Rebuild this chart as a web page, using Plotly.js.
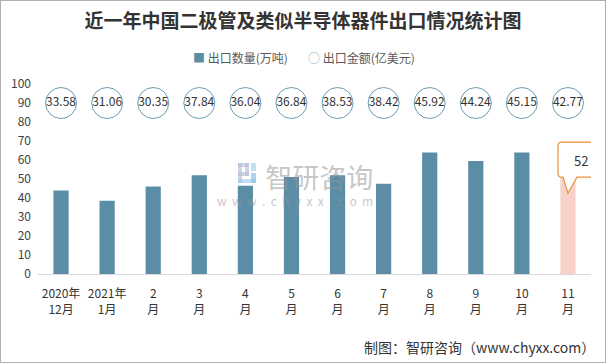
<!DOCTYPE html>
<html>
<head>
<meta charset="utf-8">
<script src="https://cdn.plot.ly/plotly-3.0.1.min.js"></script>
<style>
  html, body { margin: 0; padding: 0; background: #fff; }
  #wrap { width: 606px; height: 363px; box-sizing: border-box; border: 1px solid #b0b0b0; position: relative; overflow: hidden; }
  #chart { position: absolute; left: -1px; top: -1px; width: 606px; height: 363px; }
</style>
</head>
<body>
<div id="wrap"><div id="chart"></div></div>
<script>
// ---- data ----
const categories = ['2020年<br>12月', '2021年<br>1月', '2<br>月', '3<br>月', '4<br>月', '5<br>月', '6<br>月', '7<br>月', '8<br>月', '9<br>月', '10<br>月', '11<br>月'];
const exportVolume = [44, 38.5, 46, 52, 46.5, 51, 52, 47.5, 64, 59.5, 64, 52];   // 出口数量(万吨)
const exportValue = [33.58, 31.06, 30.35, 37.84, 36.04, 36.84, 38.53, 38.42, 45.92, 44.24, 45.15, 42.77]; // 出口金额(亿美元)
const yTicks = [0, 10, 20, 30, 40, 50, 60, 70, 80, 90, 100];
const seriesNames = ['出口数量(万吨)', '出口金额(亿美元)'];

// ---- styles ----
const FONT = '"Noto Sans CJK SC", "Microsoft YaHei", sans-serif';
const barBlue = '#5b8ea6';
const barPink = '#f8d2c9';
const circleLine = '#6c9cb3';
const labelRow = 90; // level of the circle labels row
const lastIdx = categories.length - 1;
const barColors = exportVolume.map((v, i) => i === lastIdx ? barPink : barBlue);

const traces = [
  {
    type: 'bar', name: seriesNames[0], x: categories, y: exportVolume,
    marker: { color: barColors, line: { width: 0 } }, showlegend: false
  },
  {
    type: 'scatter', mode: 'markers+text', name: seriesNames[1],
    x: categories, y: exportValue.map(() => labelRow),
    text: exportValue.map(v => v.toFixed(2)), textposition: 'middle center',
    textfont: { family: FONT, size: 12, color: '#333333' },
    marker: { symbol: 'circle', size: 31, color: '#ffffff', line: { color: circleLine, width: 1 } },
    showlegend: false, cliponaxis: false
  }
];

const plotL = 38, plotW = 606 - 38 - 15, plotT = 84, plotH = 363 - 84 - 89;
const px = x => (x - plotL) / plotW;
const py = y => (plotT + plotH - y) / plotH;

// watermark logo pieces (pixel boxes: x0, y0, x1, y1, colour)
const logoParts = [
  [238, 163, 249, 167, 'rgba(176,186,214,0.6)'],
  [238, 163, 242, 183, 'rgba(176,186,214,0.6)'],
  [245, 163, 249, 176, 'rgba(176,186,214,0.6)'],
  [238, 172, 249, 176, 'rgba(176,186,214,0.6)'],
  [251, 163, 256, 171, 'rgba(150,200,235,0.6)'],
  [251, 173, 256, 183, 'rgba(120,180,225,0.6)'],
  [238, 179, 256, 183, 'rgba(140,190,230,0.5)']
];

const layout = {
  width: 606, height: 363,
  margin: { l: plotL, r: 15, t: plotT, b: 89, pad: 0 },
  paper_bgcolor: '#ffffff', plot_bgcolor: '#ffffff',
  font: { family: FONT, color: '#404040', size: 12 },
  title: {
    text: '<b>近一年中国二极管及类似半导体器件出口情况统计图</b>',
    font: { family: FONT, size: 19, color: '#333333' },
    x: 0.5, xanchor: 'center', y: 0.94, yanchor: 'middle'
  },
  bargap: 0.67,
  showlegend: false,
  xaxis: {
    type: 'category', range: [-0.5, lastIdx + 0.5],
    tickfont: { family: FONT, size: 12, color: '#333333' }, tickangle: 0,
    showgrid: false, showline: true, linecolor: '#d9d9d9', linewidth: 1,
    ticks: '', fixedrange: true, ticklabelstandoff: 9
  },
  yaxis: {
    range: [0, 100], tickvals: yTicks, ticktext: yTicks.map(String),
    tickfont: { family: FONT, size: 12, color: '#404040' },
    showgrid: false, zeroline: false, showline: false, ticks: '', fixedrange: true,
    ticklabelstandoff: 6
  },
  shapes: [
    {
      // callout box for the last bar, anchored to the bar top
      type: 'path', xref: 'x', yref: 'y', xsizemode: 'pixel', ysizemode: 'pixel',
      xanchor: categories[lastIdx], yanchor: exportVolume[lastIdx],
      path: 'M -5,-2 L -6,-2 Q -10,-2 -10,2 L -10,29 Q -10,33 -6,33 L 32,33 Q 36,33 36,29 L 36,2 Q 36,-2 32,-2 L 9,-2 L 0,-18 Z',
      fillcolor: '#ffffff', line: { color: '#e8923c', width: 1.2 }, layer: 'above'
    }
  ].concat(logoParts.map(p => ({
    type: 'rect', xref: 'paper', yref: 'paper',
    x0: px(p[0]), x1: px(p[2]), y0: py(p[3]), y1: py(p[1]),
    fillcolor: p[4], line: { width: 0 }, layer: 'above'
  }))),
  annotations: [
    {
      x: categories[lastIdx], y: exportVolume[lastIdx], xref: 'x', yref: 'y',
      text: String(exportVolume[lastIdx]), showarrow: false, xshift: 13, yshift: 15,
      font: { family: FONT, size: 13, color: '#333333' }
    },
    // legend (drawn as text)
    {
      x: px(191), y: py(57), xref: 'paper', yref: 'paper', showarrow: false, xanchor: 'left', yanchor: 'middle',
      text: '<span style="color:' + barBlue + '">■</span> ' + seriesNames[0],
      font: { family: FONT, size: 12, color: '#595959' }
    },
    {
      x: px(306), y: py(57), xref: 'paper', yref: 'paper', showarrow: false, xanchor: 'left', yanchor: 'middle',
      text: '<span style="color:#8fb3c6">○</span> ' + seriesNames[1],
      font: { family: FONT, size: 12, color: '#595959' }
    },
    // watermark text
    {
      x: px(375), y: py(183), xref: 'paper', yref: 'paper', showarrow: false, xanchor: 'right', yanchor: 'middle',
      align: 'right',
      text: '<span style="font-size:27px">智研咨询</span><br><span style="font-size:12px">w  w  w  .  c  h  y  x  x  .  c  o  m</span>',
      font: { family: FONT, size: 14, color: 'rgba(150,150,150,0.55)' }
    },
    // footer credit
    {
      x: px(597), y: py(347), xref: 'paper', yref: 'paper', showarrow: false, xanchor: 'right', yanchor: 'middle',
      text: '制图：智研咨询（www.chyxx.com）',
      font: { family: FONT, size: 14, color: '#333333' }
    }
  ]
};

Plotly.newPlot('chart', traces, layout, { displayModeBar: false, staticPlot: true });
</script>
</body>
</html>
